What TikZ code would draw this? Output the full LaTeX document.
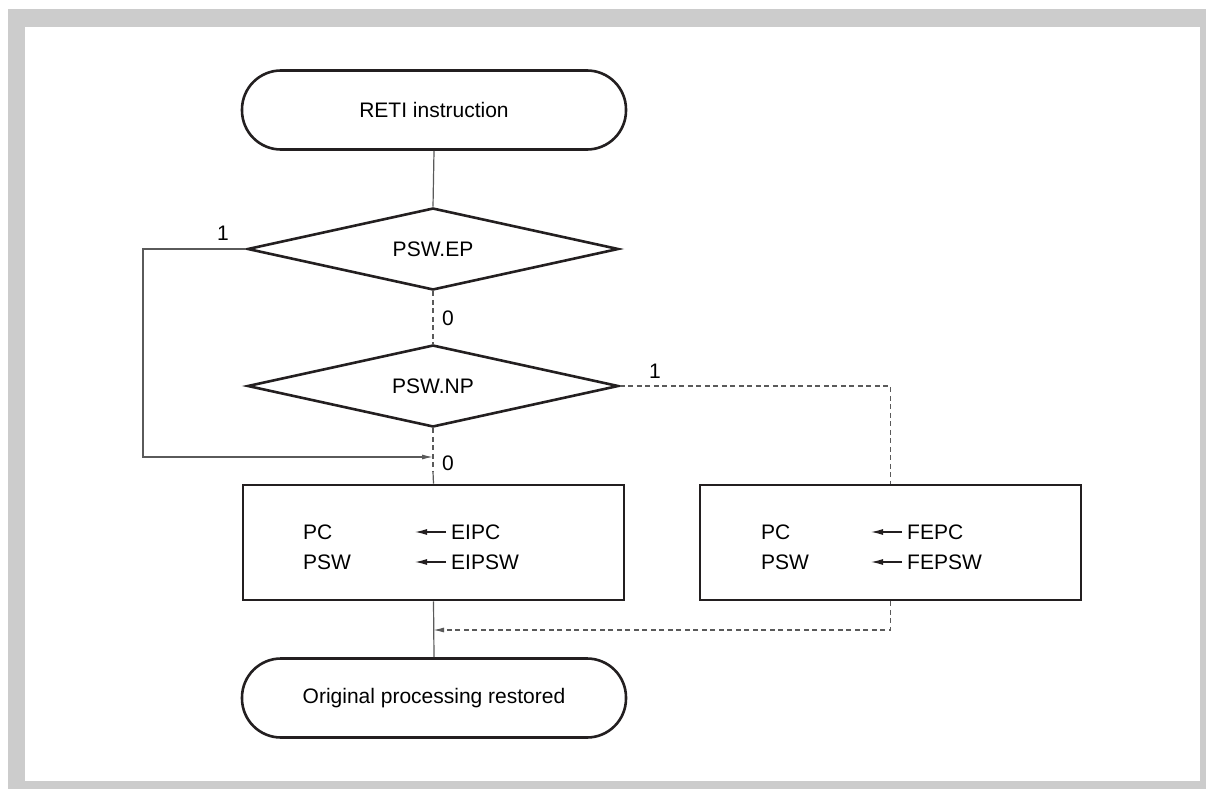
\documentclass[tikz,border=0pt]{standalone}
\usepackage{fontspec}
\setmainfont{Liberation Sans}
\usetikzlibrary{shapes.geometric,arrows.meta}
\definecolor{framegray}{HTML}{CCCCCC}
\definecolor{ink}{HTML}{231F20}
\definecolor{linegray}{HTML}{5A5A5A}
\tikzset{
  term/.style={draw=ink,line width=2.6pt,rounded corners=39pt,minimum width=384pt,minimum height=79pt,inner sep=0pt,font=\fontsize{21}{25}\selectfont},
  dec/.style={draw=ink,line width=2.6pt,diamond,shape aspect=4.5,minimum width=371pt,minimum height=82pt,inner sep=0pt,font=\fontsize{21}{25}\selectfont},
  procbox/.style={draw=ink,line width=2.6pt,minimum width=381pt,minimum height=115pt,inner sep=0pt},
  txt/.style={font=\fontsize{21}{25}\selectfont,inner sep=0pt,anchor=west},
  lbl/.style={font=\fontsize{21}{25}\selectfont,inner sep=0pt},
  conn/.style={draw=linegray,line width=1.2pt},
  dconn/.style={draw=linegray,line width=1.2pt,dash pattern=on 5pt off 3.5pt},
  tip/.style={-{Latex[length=11pt,width=5pt]}},
  assign/.style={draw=ink,line width=1.2pt,-{Latex[length=12pt,width=6pt]}}
}
\begin{document}
\begin{tikzpicture}[x=1pt,y=-1pt]
\useasboundingbox (0,0) rectangle (1206,789);
\fill[framegray] (8,9) rectangle (1206,789);
\fill[white] (25,27) rectangle (1200,781);

\node[term] (t1) at (434,110) {RETI instruction};
\node[dec] (d1) at (433,249) {PSW.EP};
\node[dec] (d2) at (433,386) {PSW.NP};
\node[procbox] (b1) at (433.5,542.5) {};
\node[procbox] (b2) at (890.5,542.5) {};
\node[term] (t2) at (434,698) {Original processing restored};

% box 1 texts
\node[txt] (pc1) at (303,532) {PC};
\node[txt] (psw1) at (303,562) {PSW};
\node[txt] (eipc) at (451,532) {EIPC};
\node[txt] (eipsw) at (451,562) {EIPSW};
\draw[assign] (eipc.west) ++(-5,0) coordinate (a1s) -- (415,532) coordinate (a1e);
\draw[assign] (eipsw.west) ++(-5,0) coordinate (a2s) -- (415,562) coordinate (a2e);
% box 2 texts
\node[txt] (pc2) at (761,532) {PC};
\node[txt] (psw2) at (761,562) {PSW};
\node[txt] (fepc) at (907,532) {FEPC};
\node[txt] (fepsw) at (907,562) {FEPSW};
\draw[assign] (fepc.west) ++(-5,0) coordinate (a3s) -- (871,532) coordinate (a3e);
\draw[assign] (fepsw.west) ++(-5,0) coordinate (a4s) -- (871,562) coordinate (a4e);

% coordinates
\coordinate (lcorner) at (143,249);
\coordinate (join) at (433,457);
\coordinate (jdash) at (433,472);
\coordinate (ret) at (433,630);

% connectors
\draw[conn] (t1.south) -- (d1.north);
\draw[dconn] (d1.south) -- (d2.north);
\draw[conn,tip] (d1.west) -- (lcorner) |- (join);
\draw[dconn] (d2.south) -- (jdash);
\draw[conn] (jdash) -- (b1.north);
\draw[dconn] (d2.east) -| (b2.north);
\draw[conn] (b1.south) -- (t2.north);
\draw[dconn,tip] (b2.south) |- (ret);

% labels
\node[lbl] (l1a) at (223,233) {1};
\node[lbl] (l0a) at (448,318) {0};
\node[lbl] (l1b) at (655,371) {1};
\node[lbl] (l0b) at (448,463) {0};
\end{tikzpicture}
\end{document}
